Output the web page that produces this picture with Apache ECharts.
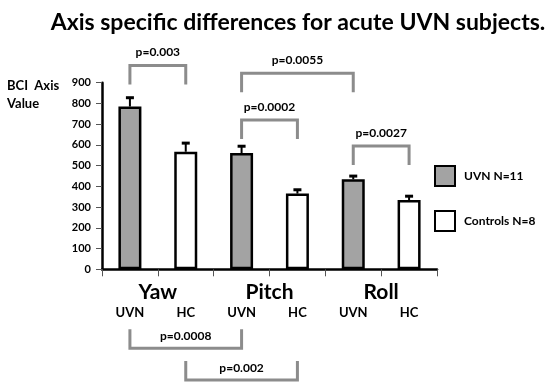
<!DOCTYPE html>
<html>
<head>
<meta charset="utf-8">
<script src="https://cdn.jsdelivr.net/npm/echarts@6/dist/echarts.min.js"></script>
<style>html,body{margin:0;padding:0;background:#fff}#c{width:550px;height:389px}</style>
</head>
<body>
<div id="c"></div>
<script>
// ---- data ----
var subLabels = ['UVN', 'HC', 'UVN', 'HC', 'UVN', 'HC'];
var groupLabels = ['Yaw', 'Pitch', 'Roll'];
var uvnValues = [785, 561, 434];
var hcValues = [567, 365, 334];
var uvnErrors = [45, 35, 18];
var hcErrors = [44, 21, 21];
var yTicks = [0, 100, 200, 300, 400, 500, 600, 700, 800, 900];
// significance brackets: [fromIndex, toIndex, levelValue]
var topBrackets = [[0, 1, 983], [2, 4, 945], [2, 3, 720], [4, 5, 595]];
var topBracketLabels = ['p=0.003', 'p=0.0055', 'p=0.0002', 'p=0.0027'];
var bottomBrackets = [[0, 2, -381], [1, 3, -534]];
var bottomBracketLabels = ['p=0.0008', 'p=0.002'];

// ---- build ----
var uvnSeries = [], hcSeries = [], errData = [];
for (var i = 0; i < groupLabels.length; i++) {
  uvnSeries.push(uvnValues[i]); uvnSeries.push('-');
  hcSeries.push('-'); hcSeries.push(hcValues[i]);
  errData.push([2 * i, uvnValues[i], uvnErrors[i]]);
  errData.push([2 * i + 1, hcValues[i], hcErrors[i]]);
}
var FONT = 'Lato';
var bracketColor = '#8c8c8c';

function bracketRender(labels, dir) {
  return function (params, api) {
    var a = api.coord([api.value(0), api.value(2)]);
    var b = api.coord([api.value(1), api.value(2)]);
    var leg = 19 * dir; // legs go down for top brackets (dir=1), up for bottom (dir=-1)
    var pts = [[a[0], a[1] + leg], [a[0], a[1]], [b[0], a[1]], [b[0], a[1] + leg]];
    var label = labels[params.dataIndex];
    var ty = dir > 0 ? a[1] - 13 : a[1] - 12;
    return {
      type: 'group',
      children: [
        {type: 'polyline', shape: {points: pts}, style: {stroke: bracketColor, lineWidth: 3, fill: null}},
        {type: 'text', style: {text: label, x: (a[0] + b[0]) / 2, y: ty, align: 'center', verticalAlign: 'middle',
          font: 'bold 12px ' + FONT, fill: '#000'}}
      ]
    };
  };
}

var chart = echarts.init(document.getElementById('c'), null, {renderer: 'canvas'});
chart.setOption({
  animation: false,
  backgroundColor: '#fff',
  title: {
    text: 'Axis specific differences for acute UVN subjects.',
    left: 293, top: 6, textAlign: 'center',
    textStyle: {fontFamily: FONT, fontWeight: 'bold', fontSize: 23, color: '#000'}
  },
  graphic: [
    {type: 'text', left: 7, top: 77, style: {text: 'BCI  Axis\nValue', font: 'bold 13px ' + FONT, fill: '#000', lineHeight: 18}}
  ],
  legend: {
    orient: 'vertical', left: 434, top: 165, itemWidth: 20, itemHeight: 20, itemGap: 23,
    padding: 0, icon: 'rect',
    textStyle: {fontFamily: FONT, fontWeight: 'bold', fontSize: 12, color: '#000', padding: [0, 0, 0, 4]},
    data: ['UVN N=11', 'Controls N=8']
  },
  grid: {left: 102, right: 113, top: 82.7, bottom: 119.7, containLabel: false},
  xAxis: [
    {
      type: 'category', data: subLabels, position: 'bottom', offset: 0,
      axisLine: {lineStyle: {color: '#000', width: 2.5}},
      axisTick: {show: true, length: 7, alignWithLabel: false, lineStyle: {color: '#555', width: 1}},
      axisLabel: {margin: 37, fontFamily: FONT, fontWeight: 'bold', fontSize: 13, color: '#000'}
    },
    {
      type: 'category', data: groupLabels, position: 'bottom', offset: 0,
      axisLine: {show: false}, axisTick: {show: false},
      axisLabel: {margin: 12, fontFamily: FONT, fontWeight: 'bold', fontSize: 21, color: '#000'}
    }
  ],
  yAxis: {
    type: 'value', min: yTicks[0], max: yTicks[yTicks.length - 1], interval: 100,
    splitLine: {show: false},
    axisLine: {show: true, lineStyle: {color: '#000', width: 2.5}},
    axisTick: {show: true, length: 6, lineStyle: {color: '#555', width: 1}},
    axisLabel: {margin: 11, fontFamily: FONT, fontWeight: 'bold', fontSize: 11, color: '#000'}
  },
  series: [
    {
      name: 'UVN N=11', type: 'bar', data: uvnSeries, barWidth: 23, barGap: '-100%',
      itemStyle: {color: '#a3a3a3', borderColor: '#000', borderWidth: 2.5}
    },
    {
      name: 'Controls N=8', type: 'bar', data: hcSeries, barWidth: 23, barGap: '-100%',
      itemStyle: {color: '#ffffff', borderColor: '#000', borderWidth: 2.5}
    },
    {
      type: 'custom', data: errData, z: 5, encode: {x: 0, y: 1},
      renderItem: function (params, api) {
        var base = api.coord([api.value(0), api.value(1)]);
        var top = api.coord([api.value(0), api.value(1) + api.value(2)]);
        return {
          type: 'group',
          children: [
            {type: 'line', shape: {x1: base[0], y1: base[1], x2: top[0], y2: top[1]}, style: {stroke: '#000', lineWidth: 2}},
            {type: 'rect', shape: {x: top[0] - 4, y: top[1] - 1, width: 8, height: 3}, style: {fill: '#000'}}
          ]
        };
      }
    },
    {
      type: 'custom', data: topBrackets, encode: {x: [0, 1], y: 2}, clip: false,
      renderItem: bracketRender(topBracketLabels, 1)
    },
    {
      type: 'custom', data: bottomBrackets, encode: {x: [0, 1], y: 2}, clip: false,
      renderItem: bracketRender(bottomBracketLabels, -1)
    }
  ]
});
</script>
</body>
</html>
